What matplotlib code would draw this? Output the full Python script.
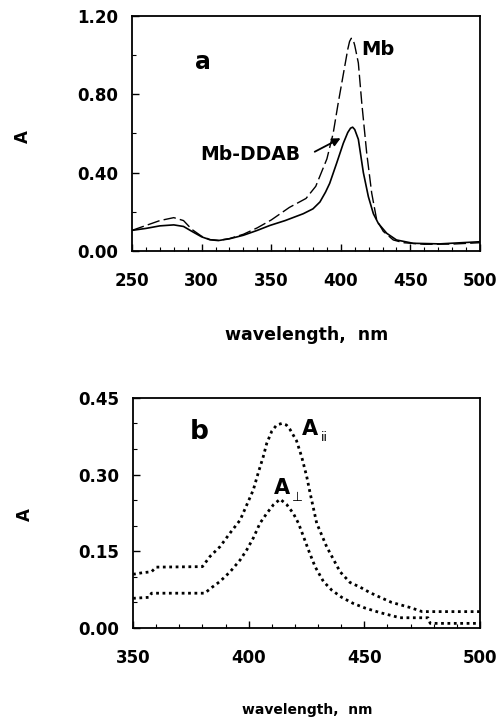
import numpy as np
import matplotlib
matplotlib.use("Agg")
from matplotlib import pyplot as plt
from matplotlib.ticker import MultipleLocator

# panel a : Mb in solution (dashed) and Mb-DDAB film (solid)
wl_mb = [250, 260, 270, 280, 287, 293, 300, 306, 312, 320, 330, 340, 350, 363,
         375, 382, 386, 390, 394.5, 398, 402, 405, 406.3, 407.5, 408.8, 410,
         412.6, 415, 418.6, 422.2, 425.8, 430.5, 437.7, 445, 460, 480, 500]
a_mb = [0.105, 0.13, 0.155, 0.17, 0.155, 0.11, 0.075, 0.058, 0.054, 0.063,
        0.085, 0.118, 0.158, 0.222, 0.268, 0.33, 0.40, 0.47, 0.60, 0.75, 0.91,
        1.03, 1.07, 1.086, 1.08, 1.05, 0.96, 0.76, 0.50, 0.295, 0.158, 0.10,
        0.056, 0.042, 0.034, 0.035, 0.042]

wl_film = [250, 260, 270, 280, 287, 293, 300, 306, 312, 320, 330, 340, 349,
           360, 373, 380, 385, 389, 392, 397, 401.8, 405, 407, 408.5, 410,
           412.6, 416.2, 419.8, 423.4, 427, 433, 440, 452, 471, 500]
a_film = [0.105, 0.115, 0.128, 0.133, 0.125, 0.10, 0.072, 0.057, 0.053, 0.062,
          0.08, 0.105, 0.13, 0.155, 0.19, 0.215, 0.25, 0.30, 0.345, 0.448,
          0.55, 0.605, 0.627, 0.632, 0.62, 0.57, 0.40, 0.277, 0.19, 0.14, 0.09,
          0.056, 0.039, 0.036, 0.047]

# panel b : polarized spectra
wl_par = [350, 354, 358, 360, 380, 383.3, 387.6, 392, 396.3, 399.2, 402, 404.1,
          406.3, 407.8, 410, 412.1, 414.3, 416.3, 417.9, 420.7, 422.9, 425.1,
          426.5, 429.4, 433.7, 439.5, 443.8, 448.1, 452.5, 456.8, 461.8, 469.8,
          475, 500]
a_par = [0.105, 0.108, 0.11, 0.119, 0.12, 0.14, 0.159, 0.186, 0.211, 0.241,
         0.27, 0.303, 0.335, 0.361, 0.385, 0.397, 0.40, 0.397, 0.388, 0.366,
         0.335, 0.296, 0.265, 0.205, 0.159, 0.11, 0.089, 0.08, 0.069, 0.06,
         0.05, 0.04, 0.032, 0.032]

wl_perp = [350, 357, 358, 381, 384, 387.6, 392, 396.3, 399.2, 402, 404.9, 407.8,
           410.7, 413.6, 416.5, 419.3, 421.5, 423.6, 425.8, 428.7, 432.3, 435.9,
           440.2, 445.2, 450.3, 456.8, 465.4, 477.5, 478.5, 500]
a_perp = [0.058, 0.06, 0.068, 0.068, 0.079, 0.091, 0.11, 0.133, 0.153, 0.176,
          0.205, 0.224, 0.241, 0.252, 0.241, 0.224, 0.205, 0.18, 0.153, 0.12,
          0.091, 0.074, 0.06, 0.048, 0.039, 0.03, 0.02, 0.02, 0.009, 0.009]

plt.rcParams['font.family'] = ['DejaVu Sans']
plt.rcParams['font.weight'] = 'bold'

fig = plt.figure(figsize=(5.01, 7.19), dpi=100)

def style(ax):
    for s in ax.spines.values():
        s.set_linewidth(1.3)
    ax.tick_params(which='both', direction='in', top=False, right=False)
    ax.tick_params(which='major', length=5, width=1)
    ax.tick_params(which='minor', length=3, width=0.8)
    ax.tick_params(axis='x', pad=15, labelsize=12)
    ax.tick_params(axis='y', pad=10, labelsize=12)
    for t in ax.get_xticklabels() + ax.get_yticklabels():
        t.set_fontweight('bold')

# ---- panel a
ax1 = fig.add_axes([0.2635, 0.651, 0.6946, 0.3268])
ax1.plot(wl_mb, a_mb, color='black', lw=1.0, dashes=(9, 3))
ax1.plot(wl_film, a_film, color='black', lw=1.2)
ax1.set_xlim(250, 500)
ax1.set_ylim(0, 1.2)
ax1.set_xticks([250, 300, 350, 400, 450, 500])
ax1.set_yticks([0, 0.4, 0.8, 1.2])
ax1.set_yticklabels(['0.00', '0.40', '0.80', '1.20'])
ax1.xaxis.set_minor_locator(MultipleLocator(10))
ax1.yaxis.set_minor_locator(MultipleLocator(0.2))
style(ax1)
ax1.text(301, 0.965, 'a', fontsize=17, fontweight='bold', ha='center', va='center')
ax1.text(415, 1.03, 'Mb', fontsize=14, fontweight='bold', ha='left', va='center')
ax1.text(299, 0.49, 'Mb-DDAB', fontsize=13.5, fontweight='bold', ha='left', va='center')
ax1.annotate('', xy=(401.6, 0.582), xytext=(379.5, 0.50),
             arrowprops=dict(arrowstyle='-|>', color='black', lw=1.3,
                             mutation_scale=12))
fig.text(0.046, 0.81, 'A', rotation=90, fontsize=12, fontweight='bold',
         ha='center', va='center')
fig.text(0.613, 0.534, 'wavelength,  nm', fontsize=12.5, fontweight='bold',
         ha='center', va='center')

# ---- panel b
ax2 = fig.add_axes([0.2655, 0.1266, 0.6926, 0.320])
ax2.plot(wl_par, a_par, color='black', lw=2.0, linestyle=(0, (1, 1.3)))
ax2.plot(wl_perp, a_perp, color='black', lw=2.0, linestyle=(0, (1, 1.3)))
ax2.set_xlim(350, 500)
ax2.set_ylim(0, 0.45)
ax2.set_xticks([350, 400, 450, 500])
ax2.set_yticks([0, 0.15, 0.30, 0.45])
ax2.set_yticklabels(['0.00', '0.15', '0.30', '0.45'])
ax2.xaxis.set_minor_locator(MultipleLocator(10))
ax2.yaxis.set_minor_locator(MultipleLocator(0.05))
style(ax2)
ax2.text(378.5, 0.384, 'b', fontsize=19, fontweight='bold', ha='center', va='center')
ax2.text(423, 0.39, 'A', fontsize=15, fontweight='bold', ha='left', va='center')
ax2.text(431, 0.372, 'ii', fontsize=9, fontweight='normal', ha='left', va='center')
ax2.text(411, 0.274, 'A', fontsize=15, fontweight='bold', ha='left', va='center')
ax2.text(418.5, 0.255, '⊥', fontsize=9, fontweight='normal', ha='left', va='center')
fig.text(0.05, 0.284, 'A', rotation=90, fontsize=12, fontweight='bold',
         ha='center', va='center')
fig.text(0.613, 0.0125, 'wavelength,  nm', fontsize=10, fontweight='bold',
         ha='center', va='center')

fig.savefig('out.png', dpi=100)
